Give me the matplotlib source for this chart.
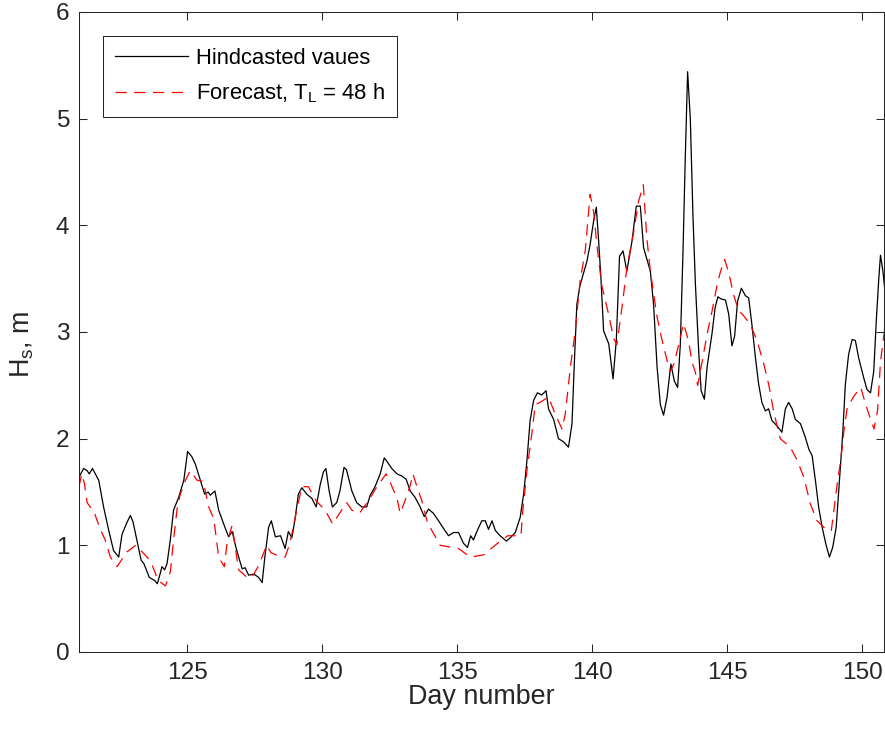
import numpy as np
import matplotlib
matplotlib.use("Agg")
import matplotlib.pyplot as plt

plt.rcParams['font.family'] = ['Liberation Sans', 'DejaVu Sans']
plt.rcParams['mathtext.fontset'] = 'custom'
plt.rcParams['mathtext.rm'] = 'Liberation Sans'
plt.rcParams['mathtext.it'] = 'Liberation Sans:italic'

# hindcasted significant wave height (day number, Hs in m)
hind_day = [121.00, 121.17, 121.30, 121.38, 121.50, 121.73, 121.91, 122.10, 122.28, 122.47,
            122.59, 122.75, 122.90, 123.00, 123.20, 123.30, 123.40, 123.60, 123.80, 123.90,
            124.00, 124.07, 124.17, 124.26, 124.38, 124.50, 124.69, 124.88, 125.02, 125.18,
            125.31, 125.49, 125.65, 125.78, 125.86, 126.03, 126.17, 126.40, 126.54, 126.67,
            126.79, 126.91, 127.04, 127.15, 127.28, 127.47, 127.65, 127.78, 127.88, 128.02,
            128.12, 128.27, 128.46, 128.63, 128.75, 128.88, 129.00, 129.12, 129.25, 129.43,
            129.62, 129.78, 129.93, 130.05, 130.14, 130.26, 130.38, 130.54, 130.66, 130.81,
            130.90, 131.10, 131.28, 131.47, 131.65, 131.78, 131.96, 132.15, 132.30, 132.42,
            132.58, 132.77, 132.95, 133.11, 133.26, 133.44, 133.63, 133.78, 133.94, 134.12,
            134.31, 134.49, 134.68, 134.86, 135.05, 135.23, 135.38, 135.50, 135.60, 135.73,
            135.91, 136.04, 136.16, 136.29, 136.41, 136.59, 136.82, 136.96, 137.15, 137.33,
            137.46, 137.58, 137.70, 137.83, 137.97, 138.13, 138.29, 138.38, 138.57, 138.75,
            138.94, 139.12, 139.25, 139.33, 139.43, 139.55, 139.80, 139.92, 140.05, 140.15,
            140.23, 140.32, 140.42, 140.61, 140.77, 140.89, 141.01, 141.14, 141.28, 141.47,
            141.63, 141.78, 141.90, 142.15, 142.27, 142.40, 142.52, 142.64, 142.77, 142.91,
            143.04, 143.16, 143.26, 143.36, 143.44, 143.53, 143.63, 143.73, 143.82, 143.94,
            144.03, 144.15, 144.25, 144.43, 144.55, 144.65, 144.77, 144.93, 145.05, 145.17,
            145.27, 145.38, 145.52, 145.67, 145.79, 145.91, 146.04, 146.16, 146.28, 146.41,
            146.53, 146.65, 146.84, 147.02, 147.15, 147.27, 147.40, 147.52, 147.71, 147.89,
            148.02, 148.14, 148.26, 148.38, 148.51, 148.65, 148.78, 148.90, 149.03, 149.15,
            149.27, 149.37, 149.49, 149.62, 149.74, 149.86, 150.05, 150.17, 150.30, 150.42,
            150.52, 150.61, 150.67, 150.76, 150.86]
hind_hs = [1.64, 1.72, 1.70, 1.67, 1.72, 1.61, 1.36, 1.14, 0.95, 0.89,
           1.10, 1.20, 1.28, 1.22, 0.98, 0.86, 0.83, 0.70, 0.67, 0.64,
           0.73, 0.80, 0.77, 0.83, 1.05, 1.33, 1.45, 1.61, 1.88, 1.83,
           1.76, 1.61, 1.48, 1.50, 1.47, 1.51, 1.33, 1.17, 1.08, 1.13,
           1.00, 0.89, 0.78, 0.79, 0.72, 0.73, 0.70, 0.65, 0.89, 1.17,
           1.23, 1.08, 1.09, 0.97, 1.13, 1.07, 1.25, 1.48, 1.54, 1.48,
           1.44, 1.36, 1.57, 1.69, 1.72, 1.51, 1.36, 1.40, 1.51, 1.73,
           1.71, 1.51, 1.40, 1.36, 1.36, 1.47, 1.55, 1.67, 1.82, 1.78,
           1.72, 1.67, 1.65, 1.62, 1.51, 1.45, 1.36, 1.27, 1.34, 1.30,
           1.23, 1.16, 1.09, 1.12, 1.12, 1.02, 0.98, 1.09, 1.05, 1.13,
           1.23, 1.23, 1.15, 1.23, 1.14, 1.09, 1.04, 1.07, 1.12, 1.26,
           1.48, 1.79, 2.17, 2.36, 2.43, 2.41, 2.45, 2.28, 2.18, 2.00,
           1.97, 1.92, 2.14, 2.67, 3.26, 3.44, 3.66, 3.82, 4.04, 4.17,
           3.88, 3.51, 3.01, 2.89, 2.56, 2.92, 3.71, 3.76, 3.57, 3.85,
           4.18, 4.18, 3.79, 3.57, 3.26, 2.67, 2.32, 2.22, 2.39, 2.70,
           2.54, 2.48, 2.88, 3.76, 4.60, 5.44, 5.00, 4.07, 3.44, 2.82,
           2.45, 2.37, 2.67, 2.98, 3.23, 3.33, 3.31, 3.30, 3.17, 2.87,
           2.96, 3.29, 3.41, 3.34, 3.32, 3.07, 2.76, 2.51, 2.34, 2.26,
           2.28, 2.17, 2.12, 2.06, 2.28, 2.34, 2.28, 2.18, 2.14, 2.01,
           1.90, 1.84, 1.61, 1.36, 1.17, 1.01, 0.89, 0.98, 1.17, 1.61,
           2.04, 2.51, 2.79, 2.93, 2.92, 2.76, 2.57, 2.46, 2.43, 2.63,
           3.13, 3.51, 3.72, 3.57, 3.32]

# forecast with 48 h lead time
fc_day = [121.00, 121.10, 121.20, 121.30, 121.56, 121.79, 121.97, 122.16, 122.41, 122.78,
          123.10, 123.52, 123.70, 123.93, 124.20, 124.38, 124.50, 124.63, 124.75, 124.94,
          125.12, 125.37, 125.60, 125.80, 125.99, 126.17, 126.38, 126.48, 126.67, 126.79,
          126.91, 127.22, 127.40, 127.63, 127.84, 127.94, 128.11, 128.40, 128.63, 128.81,
          129.06, 129.25, 129.49, 129.80, 130.11, 130.39, 130.67, 130.91, 131.10, 131.38,
          131.72, 132.03, 132.37, 132.52, 132.77, 132.89, 133.07, 133.26, 133.36, 133.51,
          133.69, 133.88, 134.06, 134.37, 134.60, 135.05, 135.48, 135.97, 136.50, 136.87,
          137.36, 137.42, 137.58, 137.76, 137.89, 138.06, 138.38, 138.63, 138.88, 139.00,
          139.19, 139.37, 139.55, 139.74, 139.92, 140.05, 140.17, 140.35, 140.61, 140.79,
          140.91, 141.10, 141.28, 141.53, 141.71, 141.89, 142.02, 142.15, 142.40, 142.57,
          142.77, 142.89, 143.02, 143.20, 143.38, 143.57, 143.69, 143.82, 143.90, 144.06,
          144.25, 144.43, 144.62, 144.74, 144.90, 145.05, 145.23, 145.42, 145.58, 145.85,
          146.10, 146.35, 146.53, 146.69, 146.84, 146.96, 147.33, 147.58, 147.83, 148.07,
          148.32, 148.69, 148.85, 149.07, 149.20, 149.32, 149.44, 149.69, 149.94, 150.12,
          150.43, 150.56, 150.67, 150.86]
fc_hs = [1.55, 1.67, 1.58, 1.40, 1.31, 1.15, 1.05, 0.89, 0.80, 0.94,
         1.00, 0.89, 0.82, 0.67, 0.62, 0.75, 1.05, 1.34, 1.48, 1.61,
         1.70, 1.61, 1.60, 1.36, 1.25, 0.89, 0.80, 1.02, 1.19, 0.97,
         0.77, 0.70, 0.70, 0.80, 0.93, 1.00, 0.93, 0.90, 0.89, 1.02,
         1.33, 1.55, 1.55, 1.41, 1.33, 1.20, 1.31, 1.40, 1.33, 1.30,
         1.42, 1.55, 1.67, 1.59, 1.44, 1.30, 1.42, 1.56, 1.67, 1.55,
         1.42, 1.23, 1.14, 1.00, 0.99, 0.97, 0.89, 0.91, 1.02, 1.09,
         1.09, 1.30, 1.70, 2.04, 2.32, 2.34, 2.39, 2.23, 2.09, 2.23,
         2.67, 3.01, 3.48, 3.76, 4.29, 4.13, 3.82, 3.44, 3.16, 2.94,
         2.88, 3.23, 3.60, 3.93, 4.22, 4.38, 3.88, 3.57, 3.14, 2.94,
         2.73, 2.63, 2.70, 2.88, 3.08, 2.91, 2.72, 2.62, 2.50, 2.71,
         2.98, 3.19, 3.44, 3.56, 3.68, 3.56, 3.35, 3.20, 3.16, 3.07,
         2.92, 2.70, 2.51, 2.29, 2.12, 2.00, 1.92, 1.80, 1.64, 1.39,
         1.23, 1.14, 1.14, 1.58, 1.80, 2.08, 2.29, 2.40, 2.48, 2.32,
         2.09, 2.26, 2.72, 3.10]

xticks = [125, 130, 135, 140, 145, 150]
yticks = [0, 1, 2, 3, 4, 5, 6]

dark = '#262626'

fig = plt.figure(figsize=(8.85, 7.32), dpi=100)
ax = fig.add_axes([79 / 885, 1 - 652 / 732, 805 / 885, 640 / 732])

ax.plot(hind_day, hind_hs, color='black', lw=0.9, label='Hindcasted vaues')
ax.plot(fc_day, fc_hs, color='#ff0000', lw=0.9, dashes=(9, 6),
        label=r'Forecast, T$_\mathregular{L}$ = 48 h')

ax.set_xlim(121, 150.8)
ax.set_ylim(0, 6)
ax.set_xticks(xticks)
ax.set_yticks(yticks)

for s in ax.spines.values():
    s.set_color(dark)
    s.set_linewidth(0.75)
ax.tick_params(direction='in', top=True, right=True, length=5.5, width=0.75,
               color=dark, labelcolor=dark, labelsize=17.6, pad=7)

ax.set_xlabel('Day number', fontsize=19.4, color=dark, labelpad=0)
ax.set_ylabel(r'H$_\mathregular{s}$, m', fontsize=19.4, color=dark)
ax.yaxis.set_label_coords(-0.053, 0.48)

leg = ax.legend(loc='upper left', bbox_to_anchor=(0.0298, 0.9625), borderaxespad=0,
                fontsize=15.85, fancybox=False, framealpha=1, edgecolor=dark,
                handlelength=3.3, handletextpad=0.37, borderpad=0.55, labelspacing=0.55)
leg.get_frame().set_linewidth(0.75)

fig.savefig('out.png', dpi=100)
